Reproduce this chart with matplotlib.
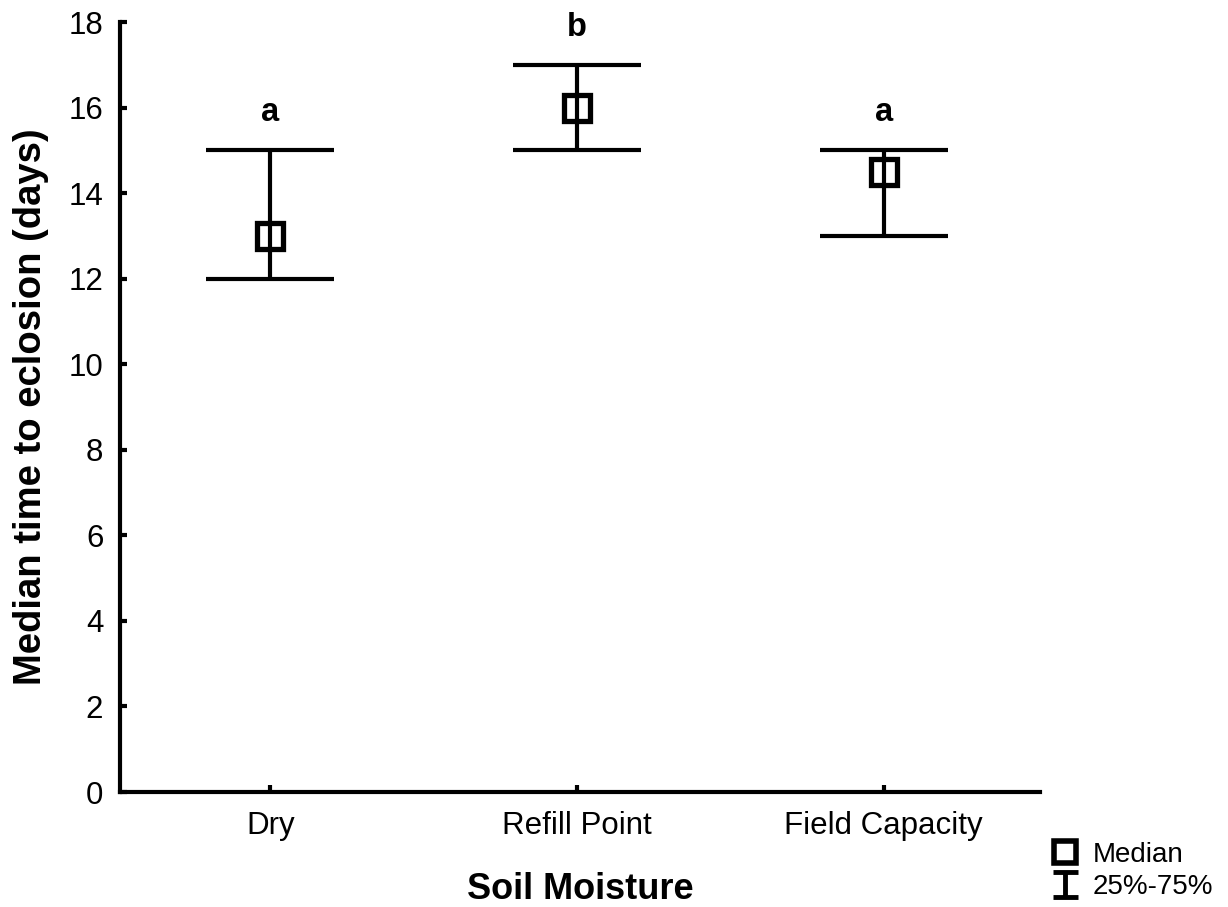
import matplotlib
matplotlib.use("Agg")
import matplotlib.pyplot as plt
from matplotlib.lines import Line2D
from matplotlib.path import Path

plt.rcParams['font.family'] = ['Liberation Sans', 'DejaVu Sans']

# Time to eclosion by soil moisture treatment
categories = ["Dry", "Refill Point", "Field Capacity"]
medians = [13.0, 16.0, 14.5]
q25 = [12.0, 15.0, 13.0]
q75 = [15.0, 17.0, 15.0]
letters = ["a", "b", "a"]
yticks = [0, 2, 4, 6, 8, 10, 12, 14, 16, 18]

W, H = 1228, 907
fig = plt.figure(figsize=(W / 100, H / 100), dpi=100)
ax = fig.add_axes([120 / W, 1 - 792 / H, 920 / W, 770 / H])

xs = list(range(len(categories)))
lower = [m - lo for m, lo in zip(medians, q25)]
upper = [hi - m for m, hi in zip(medians, q75)]

ax.errorbar(xs, medians, yerr=[lower, upper], fmt='none', ecolor='black',
            elinewidth=3, capsize=46, capthick=3, zorder=2)
ax.plot(xs, medians, linestyle='none', marker='s', markersize=18.5,
        markerfacecolor='none', markeredgecolor='black', markeredgewidth=3.8,
        zorder=3)

for x, hi, lab in zip(xs, q75, letters):
    ax.text(x, hi + 0.68, lab, ha='center', va='baseline', fontsize=23.5,
            fontweight='bold')

ax.set_xlim(-0.49, 2.51)
ax.set_ylim(0, 18)
ax.set_yticks(yticks)
ax.set_xticks(xs)
ax.set_xticklabels(categories)

for side in ('top', 'right'):
    ax.spines[side].set_visible(False)
for side in ('left', 'bottom'):
    ax.spines[side].set_linewidth(3)
ax.tick_params(axis='both', direction='in', length=5, width=3,
               labelsize=22.5)
ax.tick_params(axis='y', pad=12)
ax.tick_params(axis='x', pad=14)

ax.set_xlabel("Soil Moisture", fontsize=26, fontweight='bold', labelpad=22)
ax.set_ylabel("Median time to eclosion (days)", fontsize=27.5,
              fontweight='bold', labelpad=14)

# Legend: median marker and interquartile whisker symbol
ibar = Path([(-1, 1), (1, 1), (0, 1), (0, -1), (-1, -1), (1, -1)],
            [Path.MOVETO, Path.LINETO, Path.MOVETO, Path.LINETO,
             Path.MOVETO, Path.LINETO])
handles = [
    Line2D([], [], linestyle='none', marker='s', markersize=16.5,
           markerfacecolor='none', markeredgecolor='black',
           markeredgewidth=4),
    Line2D([], [], linestyle='none', marker=ibar, markersize=18,
           markerfacecolor='none', markeredgecolor='black',
           markeredgewidth=3.5),
]
fig.legend(handles, ["Median", "25%-75%"], loc='lower right',
           bbox_to_anchor=(1.0 - 8 / W, 0.0), frameon=False, fontsize=20,
           handlelength=0.9, handletextpad=0.55, labelspacing=0.22,
           borderaxespad=0.15, borderpad=0.1)

fig.savefig("out.png", dpi=100)
